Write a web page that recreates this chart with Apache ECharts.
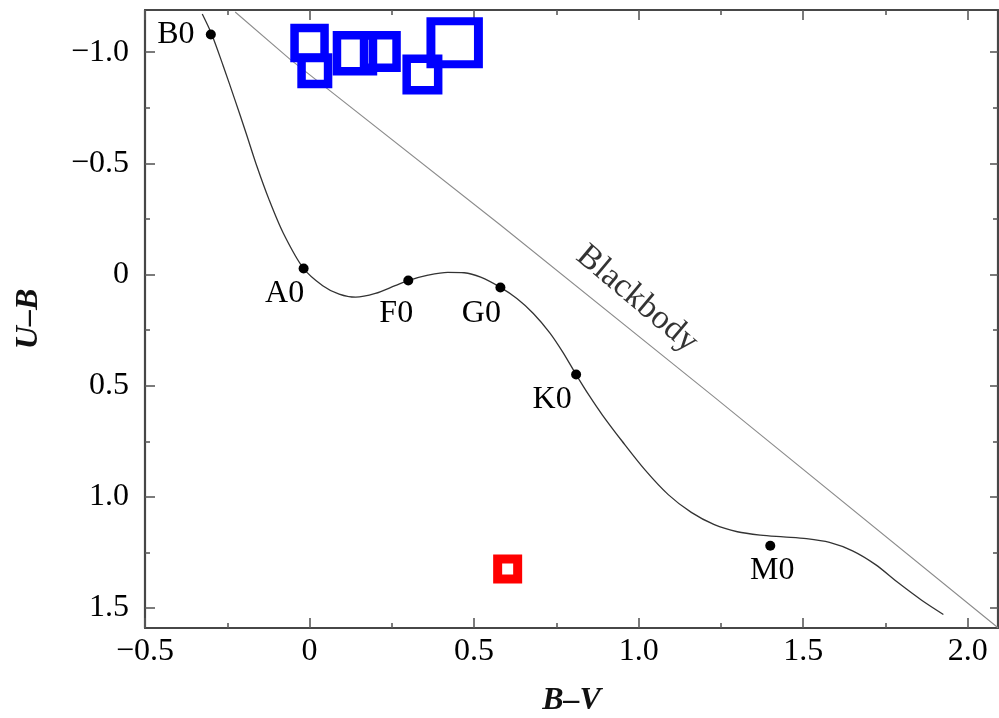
<!DOCTYPE html>
<html><head><meta charset="utf-8">
<script src="https://cdn.jsdelivr.net/npm/echarts@6/dist/echarts.min.js"></script>
<style>html,body{margin:0;padding:0;background:#fff}#c{width:999px;height:718px}</style>
</head><body><div id="c"></div>
<script>
// ---- tick values ----
const xMajorTicks = [-0.5, 0, 0.5, 1.0, 1.5, 2.0];
const xMinorTicks = [-0.25, 0.25, 0.75, 1.25, 1.75];
const yMajorTicks = [-1.0, -0.5, 0, 0.5, 1.0, 1.5];
const yMinorTicks = [-0.75, -0.25, 0.25, 0.75, 1.25];

// ---- main-sequence curve (B-V, U-B) ----
const mainSeqBV = [-0.326, -0.297, -0.262, -0.227, -0.193, -0.160, -0.123, -0.080, -0.019,
  0.04, 0.09, 0.14, 0.20, 0.26, 0.30, 0.36, 0.42, 0.47, 0.52, 0.58,
  0.63, 0.68, 0.73, 0.77, 0.81, 0.85, 0.89, 0.95, 1.02, 1.09, 1.16, 1.23, 1.30, 1.37, 1.44,
  1.51, 1.58, 1.65, 1.72, 1.79, 1.86, 1.926];
const mainSeqUB = [-1.172, -1.080, -0.937, -0.787, -0.637, -0.487, -0.337, -0.187, -0.029,
  0.050, 0.088, 0.102, 0.085, 0.050, 0.027, 0.003, -0.010, -0.008, 0.012, 0.058,
  0.108, 0.175, 0.262, 0.350, 0.450, 0.545, 0.632, 0.750, 0.880, 0.990, 1.070, 1.125, 1.157, 1.172, 1.180,
  1.188, 1.205, 1.243, 1.305, 1.388, 1.465, 1.529];

// ---- blackbody line ----
const blackbodyBV = [-0.226, -0.059, 0.579, 1.228, 2.092];
const blackbodyUB = [-1.181, -0.968, -0.224, 0.549, 1.589];

// ---- spectral type points ----
const spectralTypes = ['B0', 'A0', 'F0', 'G0', 'K0', 'M0'];
const typeBV = [-0.30, -0.018, 0.30, 0.58, 0.81, 1.40];
const typeUB = [-1.08, -0.027, 0.027, 0.058, 0.450, 1.22];

// ---- observed objects ----
const blueBV = [0.00, 0.016, 0.138, 0.215, 0.343, 0.441];
const blueUB = [-1.041, -0.917, -0.995, -1.003, -0.90, -1.043];
const redBV = [0.602];
const redUB = [1.325];

// ---- styling (kept apart from data) ----
const blueSizes = [30, 26.5, 36, 32.5, 31.5, [47.5, 43]];
const redSizes = [20];
const typeLabelOffsets = [[-35, 0], [-19, 25], [-12, 33], [-19, 26], [-24, 25], [2, 25]];
const blackbodyLabelAt = [0.995, 0.11];

const serif = '"Liberation Serif", "DejaVu Serif", "Times New Roman", serif';
function fmt(v) {
  if (Math.abs(v) < 1e-9) return '0';
  return (v < 0 ? '\u2212' : '') + Math.abs(v).toFixed(1);
}
const xRange = { min: -0.5, max: 2.092 };
const yRange = { min: -1.19, max: 1.59 };
const frameLine = { show: true, onZero: false, lineStyle: { color: '#474747', width: 2.2 } };
const tickStyle = { color: '#5a5a5a', width: 1.6 };

function axis(kind, position, ticks, len, opts) {
  const base = Object.assign({
    type: 'value', position: position,
    axisLine: { show: false, onZero: false },
    axisTick: { show: true, inside: true, length: len, customValues: ticks, lineStyle: tickStyle },
    axisLabel: { show: false },
    splitLine: { show: false }
  }, kind === 'x' ? xRange : yRange);
  if (kind === 'y') base.inverse = true;
  return Object.assign(base, opts || {});
}

const xAxes = [
  axis('x', 'bottom', xMajorTicks, 10, {
    axisLine: frameLine,
    axisLabel: { show: true, customValues: xMajorTicks, formatter: fmt, fontFamily: serif, fontSize: 32, color: '#000', margin: 8 },
    name: 'B\u2013V', nameLocation: 'middle', nameGap: 57,
    nameTextStyle: { fontFamily: serif, fontSize: 32, fontStyle: 'italic', fontWeight: 'bold', color: '#111' }
  }),
  axis('x', 'bottom', xMinorTicks, 5),
  axis('x', 'top', xMajorTicks, 10, { axisLine: frameLine }),
  axis('x', 'top', xMinorTicks, 5)
];
const yAxes = [
  axis('y', 'left', yMajorTicks, 10, {
    axisLine: frameLine,
    axisLabel: { show: true, customValues: yMajorTicks, formatter: fmt, fontFamily: serif, fontSize: 32, color: '#000', margin: 16 },
    name: 'U\u2013B', nameLocation: 'middle', nameGap: 100,
    nameTextStyle: { fontFamily: serif, fontSize: 32, fontStyle: 'italic', fontWeight: 'bold', color: '#111' }
  }),
  axis('y', 'left', yMinorTicks, 5),
  axis('y', 'right', yMajorTicks, 8, { axisLine: frameLine }),
  axis('y', 'right', yMinorTicks, 5)
];

const zip = (a, b) => a.map((v, i) => [v, b[i]]);

const chart = echarts.init(document.getElementById('c'), null, { renderer: 'canvas' });
chart.setOption({
  animation: false,
  backgroundColor: '#fff',
  grid: { left: 145, right: 1, top: 10, bottom: 90, containLabel: false, outerBoundsMode: 'none' },
  xAxis: xAxes,
  yAxis: yAxes,
  series: [
    {
      type: 'line', name: 'main sequence', data: zip(mainSeqBV, mainSeqUB),
      showSymbol: false, smooth: 0.3, silent: true, z: 2,
      lineStyle: { color: '#333', width: 1.3 }
    },
    {
      type: 'line', name: 'blackbody', data: zip(blackbodyBV, blackbodyUB),
      showSymbol: false, smooth: false, silent: true, z: 2,
      lineStyle: { color: '#8c8c8c', width: 1.1 }
    },
    {
      type: 'scatter', name: 'types', silent: true, z: 3,
      symbol: 'circle', symbolSize: 10,
      itemStyle: { color: '#000', opacity: 1 },
      data: spectralTypes.map((t, i) => ({
        value: [typeBV[i], typeUB[i]], name: t,
        label: { show: true, position: 'inside', offset: typeLabelOffsets[i], formatter: t,
                 fontFamily: serif, fontSize: 32, color: '#000' }
      }))
    },
    {
      type: 'scatter', name: 'bblabel', silent: true, z: 3,
      symbolSize: 1, itemStyle: { color: 'rgba(0,0,0,0)' },
      data: [{ value: blackbodyLabelAt, label: { show: true, position: 'inside', formatter: 'Blackbody', rotate: -40,
               fontFamily: serif, fontSize: 34, color: '#000' } }]
    },
    {
      type: 'scatter', name: 'blue', silent: true, z: 5,
      symbol: 'rect',
      itemStyle: { color: 'rgba(0,0,0,0)', borderColor: '#0000ff', borderWidth: 8.5, opacity: 1 },
      data: blueBV.map((v, i) => ({ value: [v, blueUB[i]], symbolSize: blueSizes[i] }))
    },
    {
      type: 'scatter', name: 'red', silent: true, z: 5,
      symbol: 'rect',
      itemStyle: { color: 'rgba(0,0,0,0)', borderColor: '#ff0000', borderWidth: 9, opacity: 1 },
      data: redBV.map((v, i) => ({ value: [v, redUB[i]], symbolSize: redSizes[i] }))
    }
  ]
});
</script></body></html>
